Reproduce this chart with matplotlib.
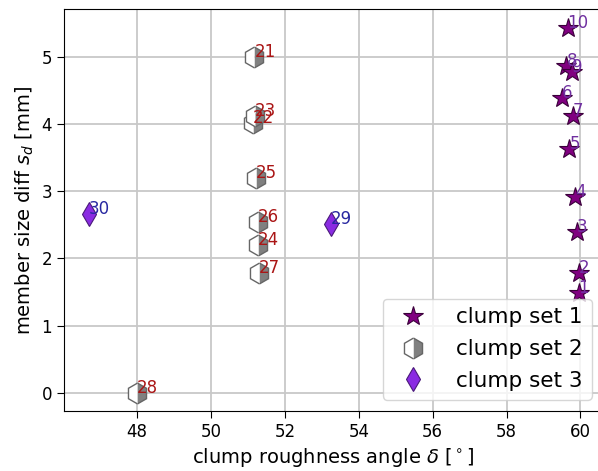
import matplotlib
matplotlib.use("Agg")
import matplotlib.pyplot as plt

# clump set 1 (stars), labels 1-10
set1_labels = ["1", "2", "3", "4", "5", "6", "7", "8", "9", "10"]
set1_x = [59.95, 59.95, 59.90, 59.86, 59.70, 59.51, 59.80, 59.62, 59.76, 59.65]
set1_y = [1.49, 1.78, 2.40, 2.92, 3.63, 4.38, 4.12, 4.86, 4.78, 5.43]

# clump set 2 (half-filled hexagons), labels 21-28
set2_labels = ["21", "22", "23", "24", "25", "26", "27", "28"]
set2_x = [51.17, 51.14, 51.19, 51.27, 51.22, 51.27, 51.30, 48.00]
set2_y = [5.00, 4.02, 4.12, 2.20, 3.20, 2.54, 1.79, 0.00]

# clump set 3 (diamonds), labels 29-30
set3_labels = ["29", "30"]
set3_x = [53.25, 46.69]
set3_y = [2.51, 2.66]

fig = plt.figure(figsize=(5.98, 4.71), dpi=100)
ax = fig.add_axes([64/598, 1 - 411/471, (603 - 64)/598, (411 - 9)/471])

ax.grid(True, color="#c8c8c8", linewidth=1.3, zorder=0)
ax.set_axisbelow(True)

ax.plot(set1_x, set1_y, linestyle="none", marker="*", markersize=15,
        markerfacecolor="purple", markeredgecolor="#3a003a", markeredgewidth=0.8,
        label="clump set 1", zorder=3)
ax.plot(set2_x, set2_y, linestyle="none", marker="h", markersize=15,
        fillstyle="right", markerfacecolor="gray", markerfacecoloralt="white",
        markeredgecolor="#666666", markeredgewidth=1.0,
        label="clump set 2", zorder=3)
ax.plot(set3_x, set3_y, linestyle="none", marker="d", markersize=12.5,
        markerfacecolor="blueviolet", markeredgecolor="#4a1a7a", markeredgewidth=0.8,
        label="clump set 3", zorder=3)

for lx, ly, lt in zip(set1_x, set1_y, set1_labels):
    ax.text(lx, ly, lt, color="#7030a0", fontsize=12, zorder=4)
for lx, ly, lt in zip(set2_x, set2_y, set2_labels):
    ax.text(lx, ly, lt, color="#aa1515", fontsize=12, zorder=4)
for lx, ly, lt in zip(set3_x, set3_y, set3_labels):
    ax.text(lx, ly, lt, color="#2828a0", fontsize=12, zorder=4)

ax.set_xlim(46.02, 60.61)
ax.set_ylim(-0.27, 5.71)
ax.set_xticks([48, 50, 52, 54, 56, 58, 60])
ax.set_yticks([0, 1, 2, 3, 4, 5])
ax.tick_params(labelsize=12, length=5)

ax.set_xlabel(r"clump roughness angle $\delta$ [$^\circ$]", fontsize=14)
ax.set_ylabel(r"member size diff $s_d$ [mm]", fontsize=14)

ax.legend(loc="lower right", fontsize=15.5, borderaxespad=0.53,
          labelspacing=0.55, handletextpad=1.0)

fig.savefig("out.png", dpi=100)
